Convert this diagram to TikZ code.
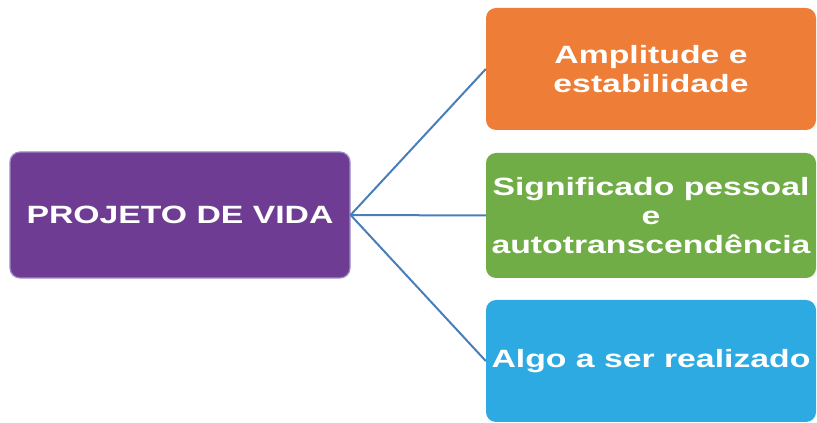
\documentclass[tikz,border=0pt]{standalone}
\usepackage{fontspec}
\setmainfont[FakeStretch=1.35]{Liberation Sans}
\definecolor{roxo}{HTML}{6F3C93}
\definecolor{roxoborda}{HTML}{9C8CC8}
\definecolor{laranja}{HTML}{ED7D37}
\definecolor{verde}{HTML}{70AD47}
\definecolor{azul}{HTML}{2DAAE1}
\definecolor{linha}{HTML}{4A7EBB}
\tikzset{
  caixa/.style={rectangle,rounded corners=10pt,text=white,align=center,
    font=\fontsize{25}{29}\selectfont\bfseries,inner sep=0pt},
  ramo/.style={draw=linha,line width=2pt}
}
\begin{document}
\begin{tikzpicture}[x=1pt,y=1pt]
	\useasboundingbox (0,0) rectangle (817,423);
	\node[caixa,fill=roxo,draw=roxoborda,line width=1.2pt,minimum width=340pt,minimum height=126pt] (projeto) at (180,208) {PROJETO DE VIDA};
	\node[caixa,fill=laranja,minimum width=330pt,minimum height=122pt] (amplitude) at (651,354) {Amplitude e\\estabilidade};
	\node[caixa,fill=verde,minimum width=330pt,minimum height=125pt] (significado) at (651,207.5) {Significado pessoal\\e\\autotranscendência};
	\node[caixa,fill=azul,minimum width=330pt,minimum height=122pt] (algo) at (651,62) {Algo a ser realizado};
	\draw[ramo] (projeto.east) -- (amplitude.west);
	\draw[ramo] (projeto.east) -- (significado.west);
	\draw[ramo] (projeto.east) -- (algo.west);
\end{tikzpicture}
\end{document}
